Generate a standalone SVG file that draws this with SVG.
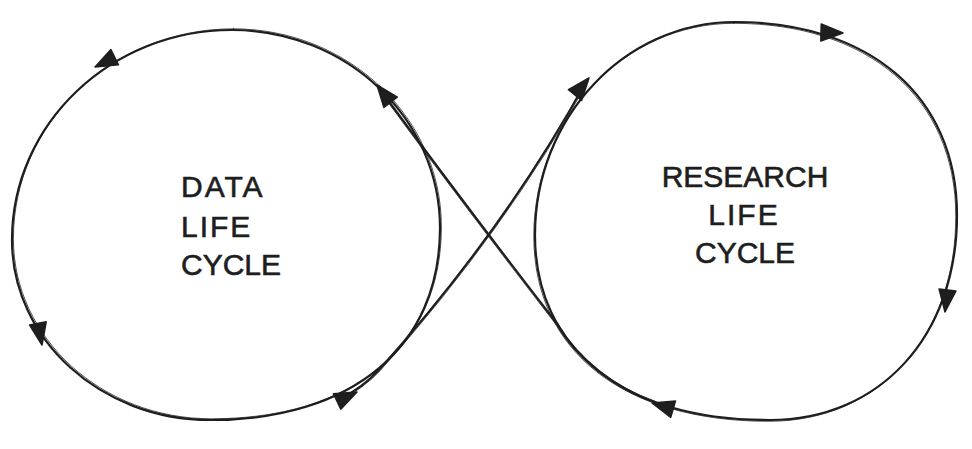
<svg xmlns="http://www.w3.org/2000/svg" xmlns:xlink="http://www.w3.org/1999/xlink" width="972" height="449" viewBox="0 0 972 449">
  <style>
    .ln { fill: none; stroke: #1e1e1e; stroke-width: 2.2; stroke-linecap: round; stroke-linejoin: round; }
    .ln2 { fill: none; stroke: #1e1e1e; stroke-width: 1; stroke-linecap: round; opacity: 0.75; }
    .head { fill: #1e1e1e; stroke: #1e1e1e; stroke-width: 1.5; stroke-linejoin: round; }
    .lbl { font-family: "Liberation Sans", Arial, sans-serif; font-size: 30px; fill: #1e1e1e; stroke: #1e1e1e; stroke-width: 0.6; }
    .wide { letter-spacing: 2px; }
  </style>
  <defs>
    <path id="loopL" d="M232,30 C110.5,30 12,124 12,240 C12,339.4 100.6,420 210,420 C352.6,420 440,347 440,228 C440,118.6 346.9,30 232,30 Z"/>
    <path id="loopR" d="M735,22 C624.5,22 535,117.4 535,235 C535,349.7 624.3,420 770,420 C880,420 957,336 957,215 C957,96 869,22 735,22 Z"/>
    <path id="lineA" d="M340,399 Q362,388 379,370 Q506,228 587,80"/>
    <path id="lineB" d="M655,402 C615,388 578,359 558,325 Q465,205 379,88"/>
  </defs>
  <rect width="972" height="449" fill="#ffffff"/>
  <g id="connectors">
    <use xlink:href="#loopL" href="#loopL" class="ln"/>
    <use xlink:href="#loopR" href="#loopR" class="ln"/>
    <use xlink:href="#lineA" href="#lineA" class="ln"/>
    <use xlink:href="#lineB" href="#lineB" class="ln"/>
    <use xlink:href="#loopL" href="#loopL" class="ln2" transform="translate(1.4,-1.2)"/>
    <use xlink:href="#loopR" href="#loopR" class="ln2" transform="translate(-1.2,1.3)"/>
    <use xlink:href="#lineA" href="#lineA" class="ln2" transform="translate(1.2,0.6)"/>
    <use xlink:href="#lineB" href="#lineB" class="ln2" transform="translate(-1,0.8)"/>
    <polygon class="head" points="95,67 110.9,49.6 118.5,64.8"/>
    <polygon class="head" points="42,345 46.2,321.8 29.6,325"/>
    <polygon class="head" points="357,392 340.8,409.2 333.4,393.8"/>
    <polygon class="head" points="589,78 581.6,100.4 568.4,89.6"/>
    <polygon class="head" points="843,33 820.8,41 821.2,24"/>
    <polygon class="head" points="945,312 939.1,289.1 955.9,291.1"/>
    <polygon class="head" points="652,403 675.5,401 670.7,417.4"/>
    <polygon class="head" points="377,85 397.3,97.1 383.9,107.5"/>
  </g>
  <g id="data-life-cycle">
    <text class="lbl wide" x="181" y="197">DATA</text>
    <text class="lbl wide" x="181" y="237">LIFE</text>
    <text class="lbl" x="181" y="275">CYCLE</text>
  </g>
  <g id="research-life-cycle">
    <text class="lbl" x="745" y="187" text-anchor="middle">RESEARCH</text>
    <text class="lbl wide" x="744" y="225" text-anchor="middle">LIFE</text>
    <text class="lbl" x="745" y="263" text-anchor="middle">CYCLE</text>
  </g>
</svg>
